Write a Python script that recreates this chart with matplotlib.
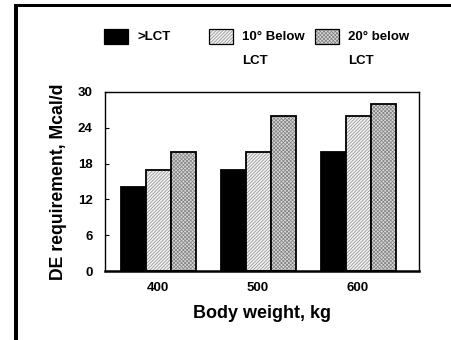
import matplotlib
matplotlib.use("Agg")
import matplotlib.pyplot as plt
import numpy as np
from matplotlib.patches import Rectangle

plt.rcParams['font.family'] = ['Liberation Sans', 'DejaVu Sans']
plt.rcParams['font.weight'] = 'bold'
plt.rcParams['hatch.linewidth'] = 0.5

categories = ['400', '500', '600']
series_names = ['>LCT', '10° Below\nLCT', '20° below\nLCT']
above_lct = [14, 17, 20]
below10 = [17, 20, 26]
below20 = [20, 26, 28]
yticks = [0, 6, 12, 18, 24, 30]

W, H = 451, 340
fig = plt.figure(figsize=(W/100, H/100), dpi=100)
ax = fig.add_axes([105/W, 1-271/H, (419-105)/W, (271-92)/H])

x = np.arange(len(categories))
bw = 0.25
styles = [
    dict(facecolor='black', hatch=None, hcol='black'),
    dict(facecolor='#f2f2f2', hatch='//////////', hcol='#8a8a8a'),
    dict(facecolor='#d9d9d9', hatch='xxxxxxxxx', hcol='#808080'),
]
series = [above_lct, below10, below20]
offsets = [-bw, 0, bw]
for vals, off, st in zip(series, offsets, styles):
    ax.bar(x + off, vals, width=bw, linewidth=0, facecolor=st['facecolor'],
           edgecolor=st['hcol'], hatch=st['hatch'])
    ax.bar(x + off, vals, width=bw, facecolor='none', edgecolor='black', linewidth=1.3)

ax.set_xlim(-0.53, 2.61)
ax.set_ylim(0, 30)
ax.set_yticks(yticks)
ax.set_xticks(x)
ax.set_xticklabels(categories)
ax.tick_params(axis='y', direction='in', length=3, width=0.8, labelsize=9.5, pad=9)
ax.tick_params(axis='x', length=0, labelsize=9.5, pad=8)
for lab in ax.get_xticklabels() + ax.get_yticklabels():
    lab.set_fontweight('bold')
for s in ax.spines.values():
    s.set_linewidth(1.0)
ax.spines['bottom'].set_linewidth(1.8)
ax.set_xlabel('Body weight, kg', fontsize=13, fontweight='bold', labelpad=8)
ax.set_ylabel('DE requirement, Mcal/d', fontsize=12.7, fontweight='bold', labelpad=8)

# legend drawn manually in figure coordinates
leg_x = [104, 209, 315]
for lx, name, st in zip(leg_x, series_names, styles):
    fig.add_artist(Rectangle((lx/W, 1-44/H), 24/W, 15/H, transform=fig.transFigure,
                             facecolor=st['facecolor'], edgecolor=st['hcol'],
                             hatch=st['hatch'], linewidth=0))
    fig.add_artist(Rectangle((lx/W, 1-44/H), 24/W, 15/H, transform=fig.transFigure,
                             facecolor='none', edgecolor='black', linewidth=0.9))
    lines = name.split('\n')
    fig.text((lx+33)/W, 1-37/H, lines[0], fontsize=9.5, fontweight='bold', va='center', ha='left')
    if len(lines) > 1:
        fig.text((lx+33)/W, 1-61/H, lines[1], fontsize=9.5, fontweight='bold', va='center', ha='left')

# figure frame lines (top and left)
fig.add_artist(Rectangle((14/W, 0), 4/W, 1-4/H, transform=fig.transFigure, facecolor='black', edgecolor='none'))
fig.add_artist(Rectangle((14/W, 1-7/H), 1-14/W, 3/H, transform=fig.transFigure, facecolor='black', edgecolor='none'))

fig.savefig('out.png', dpi=100)
